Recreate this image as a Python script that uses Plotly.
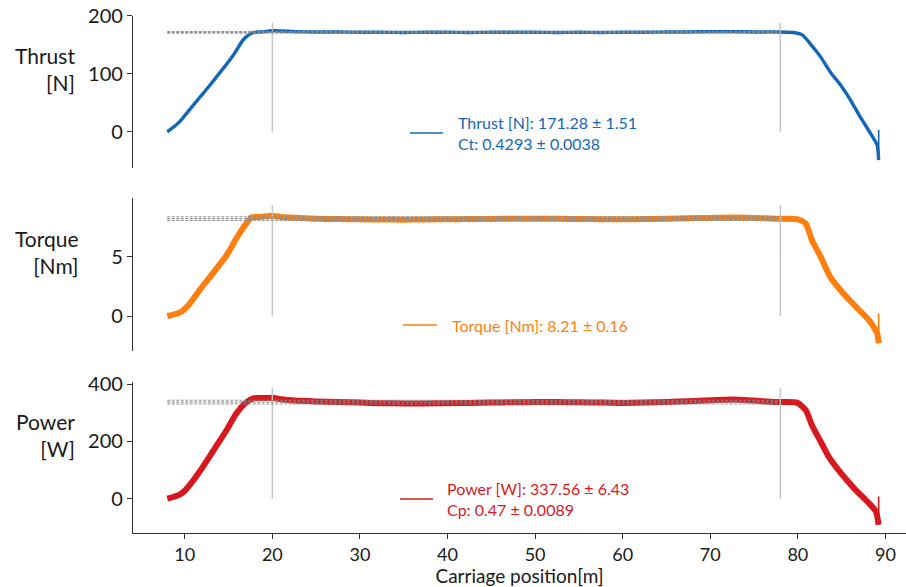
import plotly.graph_objects as go

# ---- measured series (carriage position [m] vs. quantity) ----
thrust_x = [8.0, 8.3, 9.4, 10.6, 11.7, 12.7, 13.6, 14.6, 15.5, 16.6, 16.9, 17.3, 17.8, 18.5,
            19.2, 20.0, 21.0, 22.5, 25.0, 27.5, 30.0, 32.5, 35.0, 37.5, 40.0, 42.5, 45.0,
            47.5, 50.0, 52.5, 55.0, 57.5, 60.0, 62.5, 65.0, 67.5, 70.0, 72.5, 75.0, 77.5,
            79.5, 80.5, 81.4, 82.6, 83.7, 84.9, 86.0, 87.1, 88.3, 89.05, 89.23]
thrust_y = [0, 3, 17, 39, 59, 77, 94, 113, 131, 157, 162, 167, 171, 172,
            172.5, 174.5, 173.5, 172.5, 172, 172, 171.5, 171.5, 171, 171.5, 171.5, 171, 171.5,
            171.5, 171.5, 171, 171.5, 171, 171.5, 171.5, 172, 172, 172.5, 172.5, 172, 172,
            171, 167, 152, 129, 103, 80, 55, 26, -3, -23, -49]

torque_x = [8.0, 8.6, 9.4, 10.0, 10.6, 11.7, 13.2, 14.8, 15.9, 16.9, 17.6,
            18.5, 19.3, 20.0, 21.0, 22.5, 25.0, 27.5, 30.0, 32.5, 35.0, 37.5, 40.0, 42.5,
            45.0, 47.5, 50.0, 52.5, 55.0, 57.5, 60.0, 62.5, 65.0, 67.5, 70.0, 72.5, 75.0,
            77.5, 79.9, 80.9, 81.6, 82.6, 83.7, 85.2, 86.8, 88.1, 89.05, 89.23]
torque_y = [0, 0.1, 0.28, 0.6, 1.07, 2.19, 3.6, 5.14, 6.55, 7.67, 8.3,
            8.35, 8.4, 8.45, 8.35, 8.28, 8.2, 8.17, 8.15, 8.13, 8.12, 8.14, 8.15, 8.17,
            8.18, 8.2, 8.2, 8.19, 8.18, 8.16, 8.15, 8.17, 8.2, 8.24, 8.27, 8.3, 8.26,
            8.2, 8.17, 7.8, 6.4, 5.0, 3.3, 1.9, 0.65, -0.34, -1.46, -2.3]

power_x = [8.0, 8.6, 9.4, 10.0, 10.6, 11.7, 13.2, 14.8, 15.9, 16.9, 17.8,
           18.5, 19.3, 20.0, 21.0, 22.5, 25.0, 27.5, 30.0, 32.5, 35.0, 37.5, 40.0, 42.5,
           45.0, 47.5, 50.0, 52.5, 55.0, 57.5, 60.0, 62.5, 65.0, 67.5, 70.0, 72.5, 75.0,
           77.5, 79.9, 80.9, 81.6, 82.6, 83.5, 84.9, 86.4, 87.9, 88.9, 89.23]
power_y = [0, 5, 14, 28, 49, 95, 165, 241, 299, 334, 351,
           352, 352, 353, 348, 343, 340, 338, 336, 334, 333, 333, 334, 335,
           336, 337, 338, 338, 337, 336, 335, 336, 338, 341, 344, 347, 343,
           338, 336, 310, 258, 200, 148, 90, 37, -9, -44, -91]

# last sample jumps back up at the end of the run
tail_x = [89.23, 89.23]
thrust_tail = [-49, 3]
torque_tail = [-2.3, 0.23]
power_tail = [-91, 8]

# steady window and summary statistics
window_x = [20, 78]
window_top = [188, 9.35, 386]
thrust_stats = [171.28, 1.51]
torque_stats = [8.21, 0.16]
power_stats = [337.56, 6.43]
ct_stats = ["0.4293", "0.0038"]
cp_stats = ["0.47", "0.0089"]

x_ticks = [10, 20, 30, 40, 50, 60, 70, 80, 90]

BLUE = "#1467b4"
ORANGE = "#ff7f0e"
RED = "#d7191f"
GREY_V = "#c4c4c4"
GREY_D = "#8c8c8c"
INK = "#1a1a1a"
FONT = "Lato"

W, H = 906, 587
ML, MR, MT, MB = 133, 0, 15, 54
PW, PH = W - ML - MR, H - MT - MB


def px_to_paper_x(px):
    return (px - ML) / PW


def px_to_paper_y(py):
    return (H - MB - py) / PH


fig = go.Figure()

panels = [
    dict(x=thrust_x, y=thrust_y, tail=thrust_tail, color=BLUE, width=3.4, stats=thrust_stats,
         top=window_top[0], ax="", rng=[-62.6, 200], ticks=[0, 100, 200],
         dom=[px_to_paper_y(168), px_to_paper_y(15.7)]),
    dict(x=torque_x, y=torque_y, tail=torque_tail, color=ORANGE, width=6, stats=torque_stats,
         top=window_top[1], ax="2", rng=[-2.95, 9.92], ticks=[0, 5],
         dom=[px_to_paper_y(351), px_to_paper_y(198.3)]),
    dict(x=power_x, y=power_y, tail=power_tail, color=RED, width=6, stats=power_stats,
         top=window_top[2], ax="3", rng=[-120, 407], ticks=[0, 200, 400],
         dom=[0.0, px_to_paper_y(382.3)]),
]

xr = [4.09, 92.35]
for p in panels:
    xa, ya = "x" + p["ax"], "y" + p["ax"]
    fig.add_trace(go.Scatter(x=p["x"], y=p["y"], mode="lines", xaxis=xa, yaxis=ya,
                             line=dict(color=p["color"], width=p["width"], shape="spline",
                                       smoothing=0.6),
                             showlegend=False, hoverinfo="skip"))
    fig.add_trace(go.Scatter(x=tail_x, y=p["tail"], mode="lines", xaxis=xa, yaxis=ya,
                             line=dict(color=p["color"], width=1.6),
                             showlegend=False, hoverinfo="skip"))
    for wx in window_x:
        fig.add_trace(go.Scatter(x=[wx, wx], y=[0, p["top"]], mode="lines", xaxis=xa, yaxis=ya,
                                 line=dict(color=GREY_V, width=1.4),
                                 showlegend=False, hoverinfo="skip"))
    mean, std = p["stats"]
    for k in (-1, 0, 1):
        fig.add_trace(go.Scatter(x=[8, window_x[1]], y=[mean + k * std] * 2, mode="lines",
                                 xaxis=xa, yaxis=ya,
                                 line=dict(color=GREY_D, width=1.1, dash="3px,1.5px"),
                                 opacity=0.9, showlegend=False, hoverinfo="skip"))

y_tick_font = dict(family=FONT, size=20, color=INK)
x_tick_font = dict(family=FONT, size=18, color=INK)
layout = dict(
    width=W, height=H, margin=dict(l=ML, r=MR, t=MT, b=MB),
    paper_bgcolor="white", plot_bgcolor="white", showlegend=False,
    font=dict(family=FONT, color=INK),
)
for i, p in enumerate(panels):
    s = p["ax"]
    last = i == 2
    layout["xaxis" + s] = dict(
        range=xr, domain=[0, 1], anchor="y" + s, showgrid=False, zeroline=False,
        showline=last, linecolor="#333333", linewidth=1.2,
        ticks="outside" if last else "", ticklen=5, tickcolor="#333333",
        showticklabels=last, tickvals=x_ticks, tickfont=x_tick_font,
        title=dict(text="Carriage position[m]" if last else "", font=dict(family=FONT, size=19, color=INK),
                   standoff=2),
    )
    layout["yaxis" + s] = dict(
        range=p["rng"], domain=p["dom"], anchor="x" + s, showgrid=False, zeroline=False,
        showline=True, linecolor="#333333", linewidth=1.2, ticks="outside", ticklen=5,
        tickcolor="#333333", tickvals=p["ticks"], tickfont=y_tick_font,
    )
fig.update_layout(**layout)

# horizontal axis labels on the left
ylabels = [("Thrust<br>[N]", 77, 69), ("Torque<br>[Nm]", 81, 252), ("Power<br>[W]", 77, 435)]
for text, rx, cy in ylabels:
    fig.add_annotation(text=text, xref="paper", yref="paper", x=px_to_paper_x(rx), y=px_to_paper_y(cy),
                       xanchor="right", yanchor="middle", align="right", showarrow=False,
                       font=dict(family=FONT, size=21, color=INK))

# legend-style summaries
legends = [
    (f"Thrust [N]: {thrust_stats[0]:.2f} ± {thrust_stats[1]:.2f}<br>Ct: {ct_stats[0]} ± {ct_stats[1]}",
     BLUE, 410, 443, 133, 456),
    (f"Torque [Nm]: {torque_stats[0]:.2f} ± {torque_stats[1]:.2f}", ORANGE, 403, 437, 325, 450),
    (f"Power [W]: {power_stats[0]:.2f} ± {power_stats[1]:.2f}<br>Cp: {cp_stats[0]} ± {cp_stats[1]}",
     RED, 400, 433, 499, 445),
]
for text, col, lx0, lx1, ly, tx in legends:
    fig.add_shape(type="line", xref="paper", yref="paper",
                  x0=px_to_paper_x(lx0), x1=px_to_paper_x(lx1),
                  y0=px_to_paper_y(ly), y1=px_to_paper_y(ly),
                  line=dict(color=col, width=1.6))
    fig.add_annotation(text=text, xref="paper", yref="paper", x=px_to_paper_x(tx), y=px_to_paper_y(ly),
                       xanchor="left", yanchor="middle", align="left", showarrow=False,
                       font=dict(family=FONT, size=16, color=col))

fig.write_html("out.html")
